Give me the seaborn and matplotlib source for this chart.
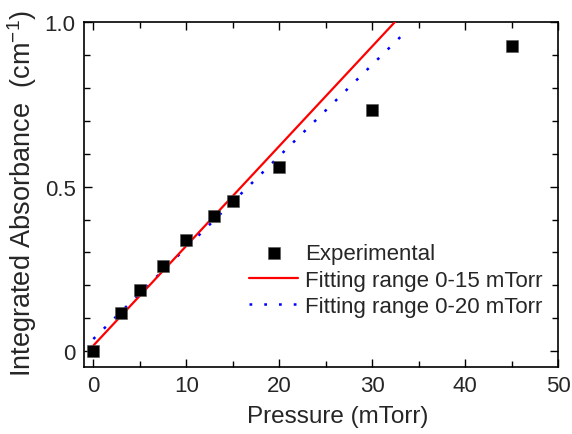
import matplotlib
matplotlib.use("Agg")
import matplotlib.pyplot as plt
import seaborn as sns
import pandas as pd
from matplotlib.ticker import MultipleLocator, FixedLocator, FixedFormatter

# Data
pressure = [0, 3, 5, 7.5, 10, 13, 15, 20, 30, 45]
absorbance = [0.0, 0.117, 0.187, 0.259, 0.338, 0.412, 0.455, 0.559, 0.732, 0.928]

fit_x = [0, 33.7]
fit15_y = [0.017, 1.038]
fit20_y = [0.037, 0.973]

x_ticks = [0, 10, 20, 30, 40, 50]
x_tick_labels = ["0", "10", "20", "30", "40", "50"]
y_ticks = [0, 0.5, 1.0]
y_tick_labels = ["0", "0.5", "1.0"]

sns.set_style("ticks")
plt.rcParams["font.family"] = ["Liberation Sans", "DejaVu Sans"]
plt.rcParams["mathtext.fontset"] = "custom"
plt.rcParams["mathtext.rm"] = "Liberation Sans"
plt.rcParams["mathtext.it"] = "Liberation Sans:italic"
plt.rcParams["mathtext.bf"] = "Liberation Sans:bold"

fig = plt.figure(figsize=(5.72, 4.35), dpi=100)
ax = fig.add_axes([0.1469, 0.154, 0.8286, 0.793])

df_exp = pd.DataFrame({"x": pressure, "y": absorbance})
df_f15 = pd.DataFrame({"x": fit_x, "y": fit15_y})
df_f20 = pd.DataFrame({"x": fit_x, "y": fit20_y})

sns.lineplot(data=df_f20, x="x", y="y", ax=ax, color="#0000ff", lw=1.8,
             linestyle=(0, (1.1, 4.8)), label="Fitting range 0-20 mTorr", zorder=2)
sns.lineplot(data=df_f15, x="x", y="y", ax=ax, color="#ff0000", lw=1.6,
             label="Fitting range 0-15 mTorr", zorder=3)
sns.scatterplot(data=df_exp, x="x", y="y", ax=ax, marker="s", s=78, color="black",
                edgecolor="#555555", linewidth=0.4, label="Experimental", zorder=4)

ax.set_xlim(-1, 50)
ax.set_ylim(-0.048, 1.0)
ax.xaxis.set_major_locator(FixedLocator(x_ticks))
ax.xaxis.set_major_formatter(FixedFormatter(x_tick_labels))
ax.xaxis.set_minor_locator(MultipleLocator(5))
ax.yaxis.set_major_locator(FixedLocator(y_ticks))
ax.yaxis.set_major_formatter(FixedFormatter(y_tick_labels))
ax.yaxis.set_minor_locator(MultipleLocator(0.1))

ax.tick_params(which="both", direction="in", top=True, right=True, width=1.0, color="black")
ax.tick_params(which="major", length=6, labelsize=16, pad=6)
ax.tick_params(which="minor", length=4)
for sp in ax.spines.values():
    sp.set_linewidth(1.2)
    sp.set_color("black")

ax.set_xlabel("Pressure (mTorr)", fontsize=17.5)
ax.set_ylabel(r"Integrated Absorbance  (cm$^{-1}$)", fontsize=19.5)
ax.xaxis.set_label_coords(0.535, -0.11)
ax.yaxis.set_label_coords(-0.095, 0.505)

handles, labels = ax.get_legend_handles_labels()
order = [labels.index("Experimental"), labels.index("Fitting range 0-15 mTorr"),
         labels.index("Fitting range 0-20 mTorr")]
ax.legend([handles[i] for i in order], [labels[i] for i in order],
          loc="upper left", bbox_to_anchor=(0.33, 0.385), frameon=False,
          fontsize=16, handlelength=2.2, handletextpad=0.3, labelspacing=0.25,
          borderaxespad=0, markerscale=1.0)

fig.savefig("out.png", dpi=100)
